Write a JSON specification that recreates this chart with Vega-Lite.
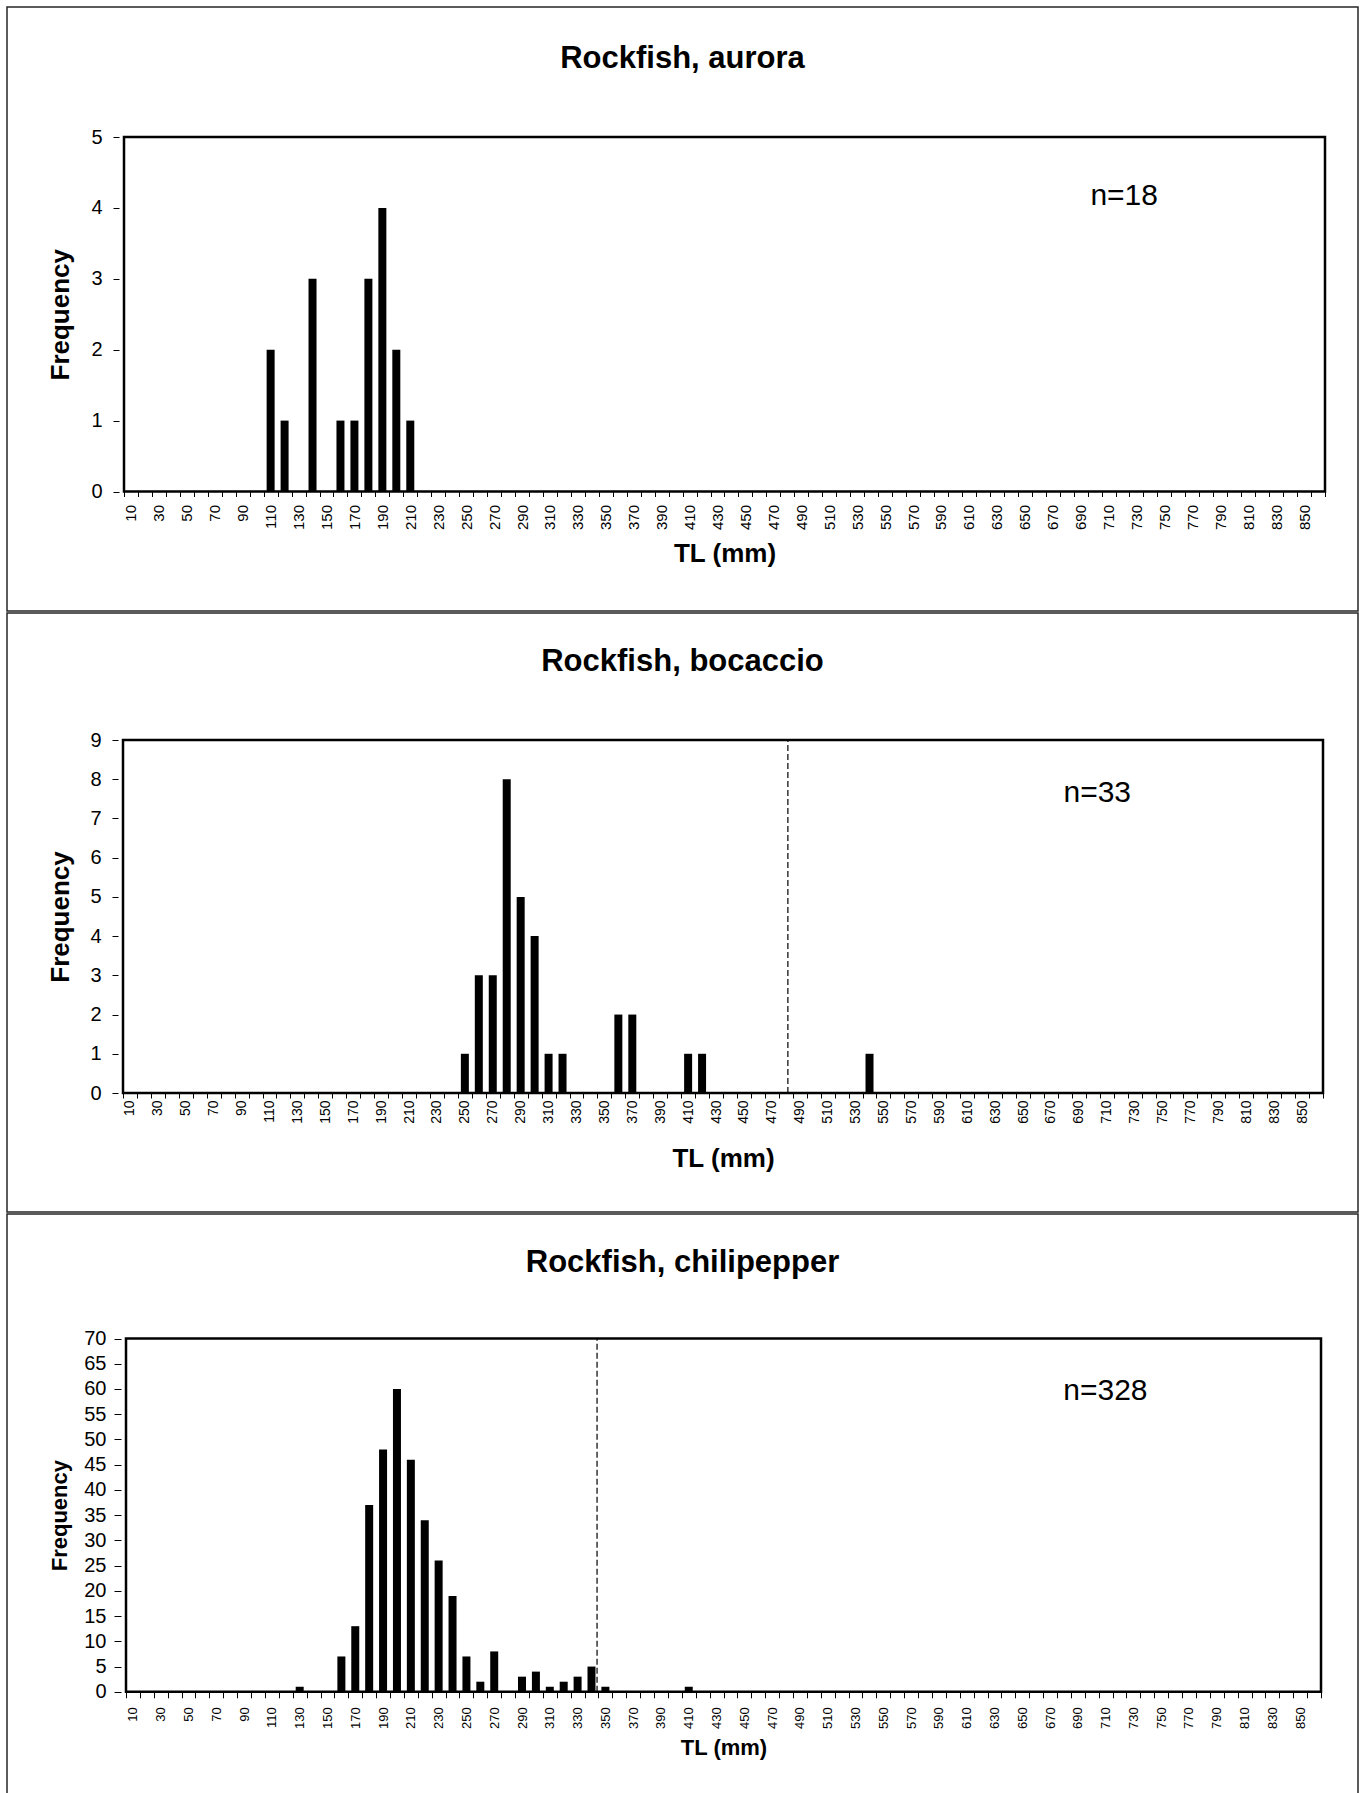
{
  "$schema": "https://vega.github.io/schema/vega-lite/v6.json",
  "background": "white",
  "padding": {"left": 6, "top": 6, "right": 0, "bottom": 0},
  "datasets": {
    "aurora": [
      {"tl": 110, "freq": 2}, {"tl": 120, "freq": 1}, {"tl": 140, "freq": 3},
      {"tl": 160, "freq": 1}, {"tl": 170, "freq": 1}, {"tl": 180, "freq": 3},
      {"tl": 190, "freq": 4}, {"tl": 200, "freq": 2}, {"tl": 210, "freq": 1}
    ],
    "bocaccio": [
      {"tl": 250, "freq": 1}, {"tl": 260, "freq": 3}, {"tl": 270, "freq": 3},
      {"tl": 280, "freq": 8}, {"tl": 290, "freq": 5}, {"tl": 300, "freq": 4},
      {"tl": 310, "freq": 1}, {"tl": 320, "freq": 1}, {"tl": 360, "freq": 2},
      {"tl": 370, "freq": 2}, {"tl": 410, "freq": 1}, {"tl": 420, "freq": 1},
      {"tl": 540, "freq": 1}
    ],
    "chilipepper": [
      {"tl": 130, "freq": 1}, {"tl": 160, "freq": 7}, {"tl": 170, "freq": 13},
      {"tl": 180, "freq": 37}, {"tl": 190, "freq": 48}, {"tl": 200, "freq": 60},
      {"tl": 210, "freq": 46}, {"tl": 220, "freq": 34}, {"tl": 230, "freq": 26},
      {"tl": 240, "freq": 19}, {"tl": 250, "freq": 7}, {"tl": 260, "freq": 2},
      {"tl": 270, "freq": 8}, {"tl": 290, "freq": 3}, {"tl": 300, "freq": 4},
      {"tl": 310, "freq": 1}, {"tl": 320, "freq": 2}, {"tl": 330, "freq": 3},
      {"tl": 340, "freq": 5}, {"tl": 350, "freq": 1}, {"tl": 410, "freq": 1}
    ]
  },
  "config": {
    "font": "Liberation Sans",
    "view": {"stroke": "#262626", "strokeWidth": 1.5},
    "concat": {"spacing": 0},
    "axis": {
      "grid": false, "domain": false,
      "labelColor": "black", "tickColor": "black", "titleColor": "black",
      "labelFont": "Liberation Sans", "titleFont": "Liberation Sans",
      "titleFontWeight": "bold", "labelOverlap": false, "labelFlush": false
    },
    "title": {"fontSize": 31, "fontWeight": "bold", "color": "black", "anchor": "middle", "frame": "group", "font": "Liberation Sans"},
    "text": {"font": "Liberation Sans", "color": "black"}
  },
  "vconcat": [
    {
      "width": 1351, "height": 604,
      "title": {"text": "Rockfish, aurora", "offset": -68},
      "layer": [
        {
          "data": {"values": [{}]},
          "mark": {"type": "rect", "filled": false, "stroke": "black", "strokeWidth": 2.5},
          "encoding": {
            "x": {"datum": 5, "type": "quantitative"}, "x2": {"datum": 865},
            "y": {"datum": 0, "type": "quantitative"}, "y2": {"datum": 5}
          }
        },
        {
          "data": {"name": "aurora"},
          "mark": {"type": "bar", "color": "black", "width": 8, "orient": "vertical"},
          "encoding": {
            "x": {
              "field": "tl", "type": "quantitative", "title": "TL (mm)",
              "scale": {"domain": [5, 865], "range": [112, 1323], "nice": false, "zero": false},
              "axis": {
                "orient": "bottom", "offset": -119.5, "tickCount": 172,
                "labelExpr": "datum.value % 20 == 10 ? datum.label : ''",
                "tickOpacity": {"condition": {"test": "datum.value % 10 == 5", "value": 1}, "value": 0},
                "labelAngle": 270, "labelFontSize": 15, "labelPadding": 8, "tickSize": 5,
                "titleFontSize": 26, "titlePadding": 11
              }
            },
            "y": {
              "field": "freq", "type": "quantitative", "title": "Frequency",
              "scale": {"domain": [0, 5], "range": [484.5, 130], "nice": false},
              "axis": {
                "orient": "left", "offset": -112, "values": [0, 1, 2, 3, 4, 5], "format": "d",
                "tickSize": 6, "labelFontSize": 20, "labelPadding": 11,
                "titleFontSize": 26, "titlePadding": 17
              }
            }
          }
        },
        {
          "data": {"values": [{"label": "n=18"}]},
          "mark": {"type": "text", "align": "left", "baseline": "middle", "fontSize": 30},
          "encoding": {
            "x": {"datum": 697, "type": "quantitative"},
            "y": {"datum": 4.17, "type": "quantitative"},
            "text": {"field": "label"}
          }
        }
      ]
    },
    {
      "width": 1351, "height": 599,
      "title": {"text": "Rockfish, bocaccio", "offset": -65},
      "layer": [
        {
          "data": {"values": [{}]},
          "mark": {"type": "rect", "filled": false, "stroke": "black", "strokeWidth": 2.5},
          "encoding": {
            "x": {"datum": 5, "type": "quantitative"}, "x2": {"datum": 865},
            "y": {"datum": 0, "type": "quantitative"}, "y2": {"datum": 9}
          }
        },
        {
          "data": {"name": "bocaccio"},
          "mark": {"type": "bar", "color": "black", "width": 8, "orient": "vertical"},
          "encoding": {
            "x": {
              "field": "tl", "type": "quantitative", "title": "TL (mm)",
              "scale": {"domain": [5, 865], "range": [111, 1321], "nice": false, "zero": false},
              "axis": {
                "orient": "bottom", "offset": -119, "tickCount": 172,
                "labelExpr": "datum.value % 20 == 10 ? datum.label : ''",
                "tickOpacity": {"condition": {"test": "datum.value % 10 == 5", "value": 1}, "value": 0},
                "labelAngle": 270, "labelFontSize": 14, "labelPadding": 2, "tickSize": 5,
                "titleFontSize": 26, "titlePadding": 22
              }
            },
            "y": {
              "field": "freq", "type": "quantitative", "title": "Frequency",
              "scale": {"domain": [0, 9], "range": [480, 127], "nice": false},
              "axis": {
                "orient": "left", "offset": -111, "values": [0, 1, 2, 3, 4, 5, 6, 7, 8, 9], "format": "d",
                "tickSize": 6, "labelFontSize": 20, "labelPadding": 11,
                "titleFontSize": 26, "titlePadding": 16
              }
            }
          }
        },
        {
          "data": {"values": [{"tl": 481.5}]},
          "mark": {"type": "rule", "color": "black", "strokeWidth": 1.2, "strokeDash": [6, 3]},
          "encoding": {
            "x": {"datum": 481.5, "type": "quantitative"},
            "y": {"datum": 0, "type": "quantitative"}, "y2": {"datum": 9}
          }
        },
        {
          "data": {"values": [{"label": "n=33"}]},
          "mark": {"type": "text", "align": "left", "baseline": "middle", "fontSize": 30},
          "encoding": {
            "x": {"datum": 679, "type": "quantitative"},
            "y": {"datum": 7.65, "type": "quantitative"},
            "text": {"field": "label"}
          }
        }
      ]
    },
    {
      "width": 1351, "height": 587,
      "title": {"text": "Rockfish, chilipepper", "offset": -65},
      "layer": [
        {
          "data": {"values": [{}]},
          "mark": {"type": "rect", "filled": false, "stroke": "black", "strokeWidth": 2.5},
          "encoding": {
            "x": {"datum": 5, "type": "quantitative"}, "x2": {"datum": 865},
            "y": {"datum": 0, "type": "quantitative"}, "y2": {"datum": 70}
          }
        },
        {
          "data": {"name": "chilipepper"},
          "mark": {"type": "bar", "color": "black", "width": 8, "orient": "vertical"},
          "encoding": {
            "x": {
              "field": "tl", "type": "quantitative", "title": "TL (mm)",
              "scale": {"domain": [5, 865], "range": [114, 1319], "nice": false, "zero": false},
              "axis": {
                "orient": "bottom", "offset": -109.2, "tickCount": 172,
                "labelExpr": "datum.value % 20 == 10 ? datum.label : ''",
                "tickOpacity": {"condition": {"test": "datum.value % 10 == 5", "value": 1}, "value": 0},
                "labelAngle": 270, "labelFontSize": 13, "labelPadding": 9, "tickSize": 6,
                "titleFontSize": 22, "titlePadding": 9
              }
            },
            "y": {
              "field": "freq", "type": "quantitative", "title": "Frequency",
              "scale": {"domain": [0, 70], "range": [477.8, 124.5], "nice": false},
              "axis": {
                "orient": "left", "offset": -114, "format": "d",
                "values": [0, 5, 10, 15, 20, 25, 30, 35, 40, 45, 50, 55, 60, 65, 70],
                "tickSize": 7, "labelFontSize": 20, "labelPadding": 8,
                "titleFontSize": 22, "titlePadding": 12
              }
            }
          }
        },
        {
          "data": {"values": [{"tl": 344}]},
          "mark": {"type": "rule", "color": "black", "strokeWidth": 1.2, "strokeDash": [6, 3]},
          "encoding": {
            "x": {"datum": 344, "type": "quantitative"},
            "y": {"datum": 0, "type": "quantitative"}, "y2": {"datum": 70}
          }
        },
        {
          "data": {"values": [{"label": "n=328"}]},
          "mark": {"type": "text", "align": "left", "baseline": "middle", "fontSize": 30},
          "encoding": {
            "x": {"datum": 679.5, "type": "quantitative"},
            "y": {"datum": 59.5, "type": "quantitative"},
            "text": {"field": "label"}
          }
        }
      ]
    }
  ]
}
